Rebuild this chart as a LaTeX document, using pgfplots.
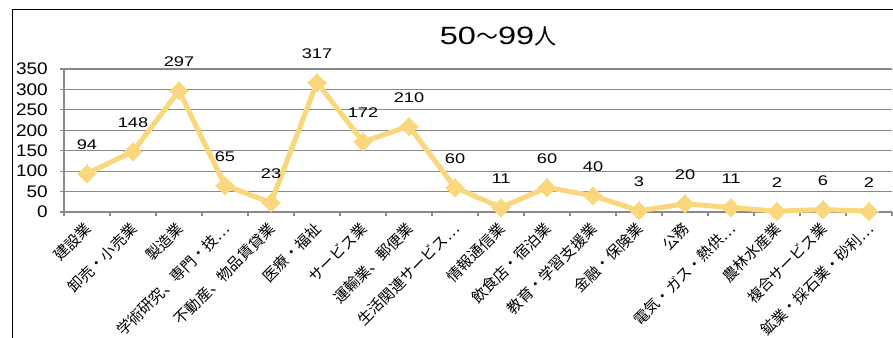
\documentclass[border=0pt]{standalone}
\usepackage{fontspec}
\usepackage{pgfplots}
\pgfplotsset{compat=1.18}
\setmainfont{Noto Sans CJK JP}
\newfontfamily\numfont[FakeStretch=1.3]{Liberation Sans}
\newfontfamily\ticknumfont[FakeStretch=1.13]{Liberation Sans}
\newfontfamily\cjk{Noto Sans CJK JP}
\definecolor{linegold}{RGB}{250,215,125}
\definecolor{gridgray}{RGB}{137,137,137}
\begin{document}
\begin{tikzpicture}[x=1pt,y=1pt]
\path[use as bounding box, clip] (0,0) rectangle (893,337);
\draw[line width=1.5pt] (12.5,327.5) rectangle (905,-10);
\node[anchor=base, inner sep=0pt] at (498,292) {{\numfont\fontsize{25}{25}\selectfont 50}{\cjk\fontsize{22}{22}\selectfont ～}{\numfont\fontsize{25}{25}\selectfont 99}{\cjk\fontsize{22}{22}\selectfont 人}};
\begin{axis}[
  at={(64pt,125pt)}, anchor=south west, scale only axis,
  width=828pt, height=143pt,
  xmin=-0.5, xmax=17.5, ymin=0, ymax=350,
  /pgf/number format/assume math mode=true,
  ytick={0,50,...,350},
  xtick={0,...,17},
  xticklabels={建設業,卸売・小売業,製造業,学術研究、専門・技…,不動産、物品賃貸業,医療・福祉,サービス業,運輸業、郵便業,生活関連サービス…,情報通信業,飲食店・宿泊業,教育・学習支援業,金融・保険業,公務,電気・ガス・熱供…,農林水産業,複合サービス業,鉱業・採石業・砂利…},
  minor xtick={-0.5,0.5,...,17.5},
  axis x line*=bottom, axis y line*=left,
  axis line style={gridgray, line width=1.2pt},
  ymajorgrids, grid style={gridgray, line width=1.2pt},
  tick align=outside,
  major tick length=4pt, minor tick length=4pt,
  major x tick style={draw=none},
  minor x tick style={gridgray, line width=1.2pt},
  major y tick style={gridgray, line width=1.2pt},
  yticklabel style={font=\ticknumfont\fontsize{16.8}{16.8}\selectfont, inner sep=0pt, xshift=-12pt},
  xticklabel style={font=\fontsize{15}{15}\selectfont, xshift=1.5pt, yshift=-10pt, rotate=45, anchor=east, inner sep=0pt},
  nodes near coords,
  every node near coord/.append style={font=\numfont\fontsize{14}{14}\selectfont, text=black, anchor=south, inner sep=0pt, yshift=24pt},
  clip=false,
]
\addplot[linegold, line width=5pt, mark=square*, mark size=6.4pt,
  mark options={rotate=45, fill=linegold, draw=linegold, line width=0pt}]
  coordinates {(0,94) (1,148) (2,297) (3,65) (4,23) (5,317) (6,172) (7,210) (8,60) (9,11) (10,60) (11,40) (12,3) (13,20) (14,11) (15,2) (16,6) (17,2)};
\end{axis}
\end{tikzpicture}
\end{document}
